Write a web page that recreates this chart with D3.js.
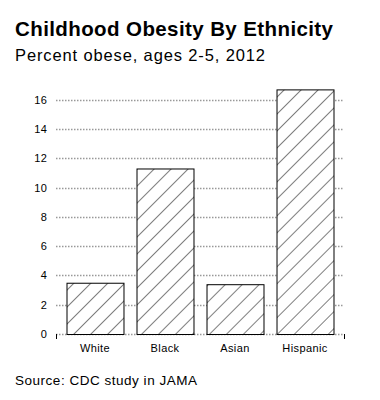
<!DOCTYPE html>
<html><head><meta charset="utf-8">
<script src="https://cdn.jsdelivr.net/npm/d3@7"></script>
<style>
body{margin:0;background:#fff;}
text{font-family:"Liberation Sans",Arial,Helvetica,sans-serif;}
</style></head>
<body>
<script>
const categories = ["White","Black","Asian","Hispanic"];
const values = [3.5, 11.3, 3.4, 16.7];
const yTicks = [0,2,4,6,8,10,12,14,16];
const title = "Childhood Obesity By Ethnicity";
const subtitle = "Percent obese, ages 2-5, 2012";
const source = "Source: CDC study in JAMA";

const W = 380, H = 400;
const svg = d3.select("body").append("svg").attr("width", W).attr("height", H);

const defs = svg.append("defs");
const pat = defs.append("pattern").attr("id","hatch").attr("patternUnits","userSpaceOnUse")
  .attr("width",12).attr("height",12).attr("patternTransform","rotate(45)");
pat.append("rect").attr("width",12).attr("height",12).attr("fill","#fff");
pat.append("line").attr("x1",0).attr("y1",0).attr("x2",0).attr("y2",12)
  .attr("stroke","#000").attr("stroke-width",1);

const x = d3.scaleBand().domain(categories).range([56, 344]).paddingInner(0.186).paddingOuter(0.15);
const y = d3.scaleLinear().domain([0, 17]).range([334, 85]);

svg.append("text").attr("x",15).attr("y",36).attr("font-size","20.5px").attr("font-weight","bold").attr("fill","#000")
  .attr("textLength",318).attr("lengthAdjust","spacing").text(title);
svg.append("text").attr("x",15).attr("y",61).attr("font-size","16.5px").attr("fill","#000")
  .attr("textLength",250).attr("lengthAdjust","spacing").text(subtitle);

// gridlines
svg.append("g").selectAll("line").data(yTicks).join("line")
  .attr("x1",56).attr("x2",344)
  .attr("y1",d=>Math.round(y(d))+0.5).attr("y2",d=>Math.round(y(d))+0.5)
  .attr("stroke","#999").attr("stroke-width",1.5).attr("stroke-dasharray","1.5,1.5");

// y labels
const yAxis = d3.axisLeft(y).tickValues(yTicks).tickSize(0).tickPadding(0);
const gy = svg.append("g").attr("transform","translate(47,0)").call(yAxis);
gy.select(".domain").remove();
gy.selectAll("text").attr("font-size","11px").attr("fill","#000").attr("letter-spacing","0.2px")
  .attr("font-family","Liberation Sans, Arial, sans-serif");

// bars
svg.append("g").selectAll("rect").data(categories).join("rect")
  .attr("x",d=>x(d)+0.5).attr("width",x.bandwidth())
  .attr("y",(d,i)=>y(values[i])+0.5).attr("height",(d,i)=>y(0)-y(values[i]))
  .attr("fill","url(#hatch)").attr("stroke","#000").attr("stroke-width",1);

// x axis
const xAxis = d3.axisBottom(x).tickSize(0).tickPadding(0);
const gx = svg.append("g").attr("transform",`translate(0,${y(0)})`).call(xAxis);
gx.select(".domain").remove();
gx.selectAll("text").attr("font-size","11px").attr("fill","#000").attr("letter-spacing","0.4px")
  .attr("font-family","Liberation Sans, Arial, sans-serif").attr("dy",null).attr("y",17.5);
const r = x.range();
gx.selectAll("line.end").data(r).join("line").attr("class","end")
  .attr("x1",d=>d+0.5).attr("x2",d=>d+0.5).attr("y1",0).attr("y2",5).attr("stroke","#000");

svg.append("text").attr("x",15).attr("y",385).attr("font-size","13.5px").attr("fill","#000")
  .attr("textLength",182).attr("lengthAdjust","spacing").text(source);
</script>
</body></html>
